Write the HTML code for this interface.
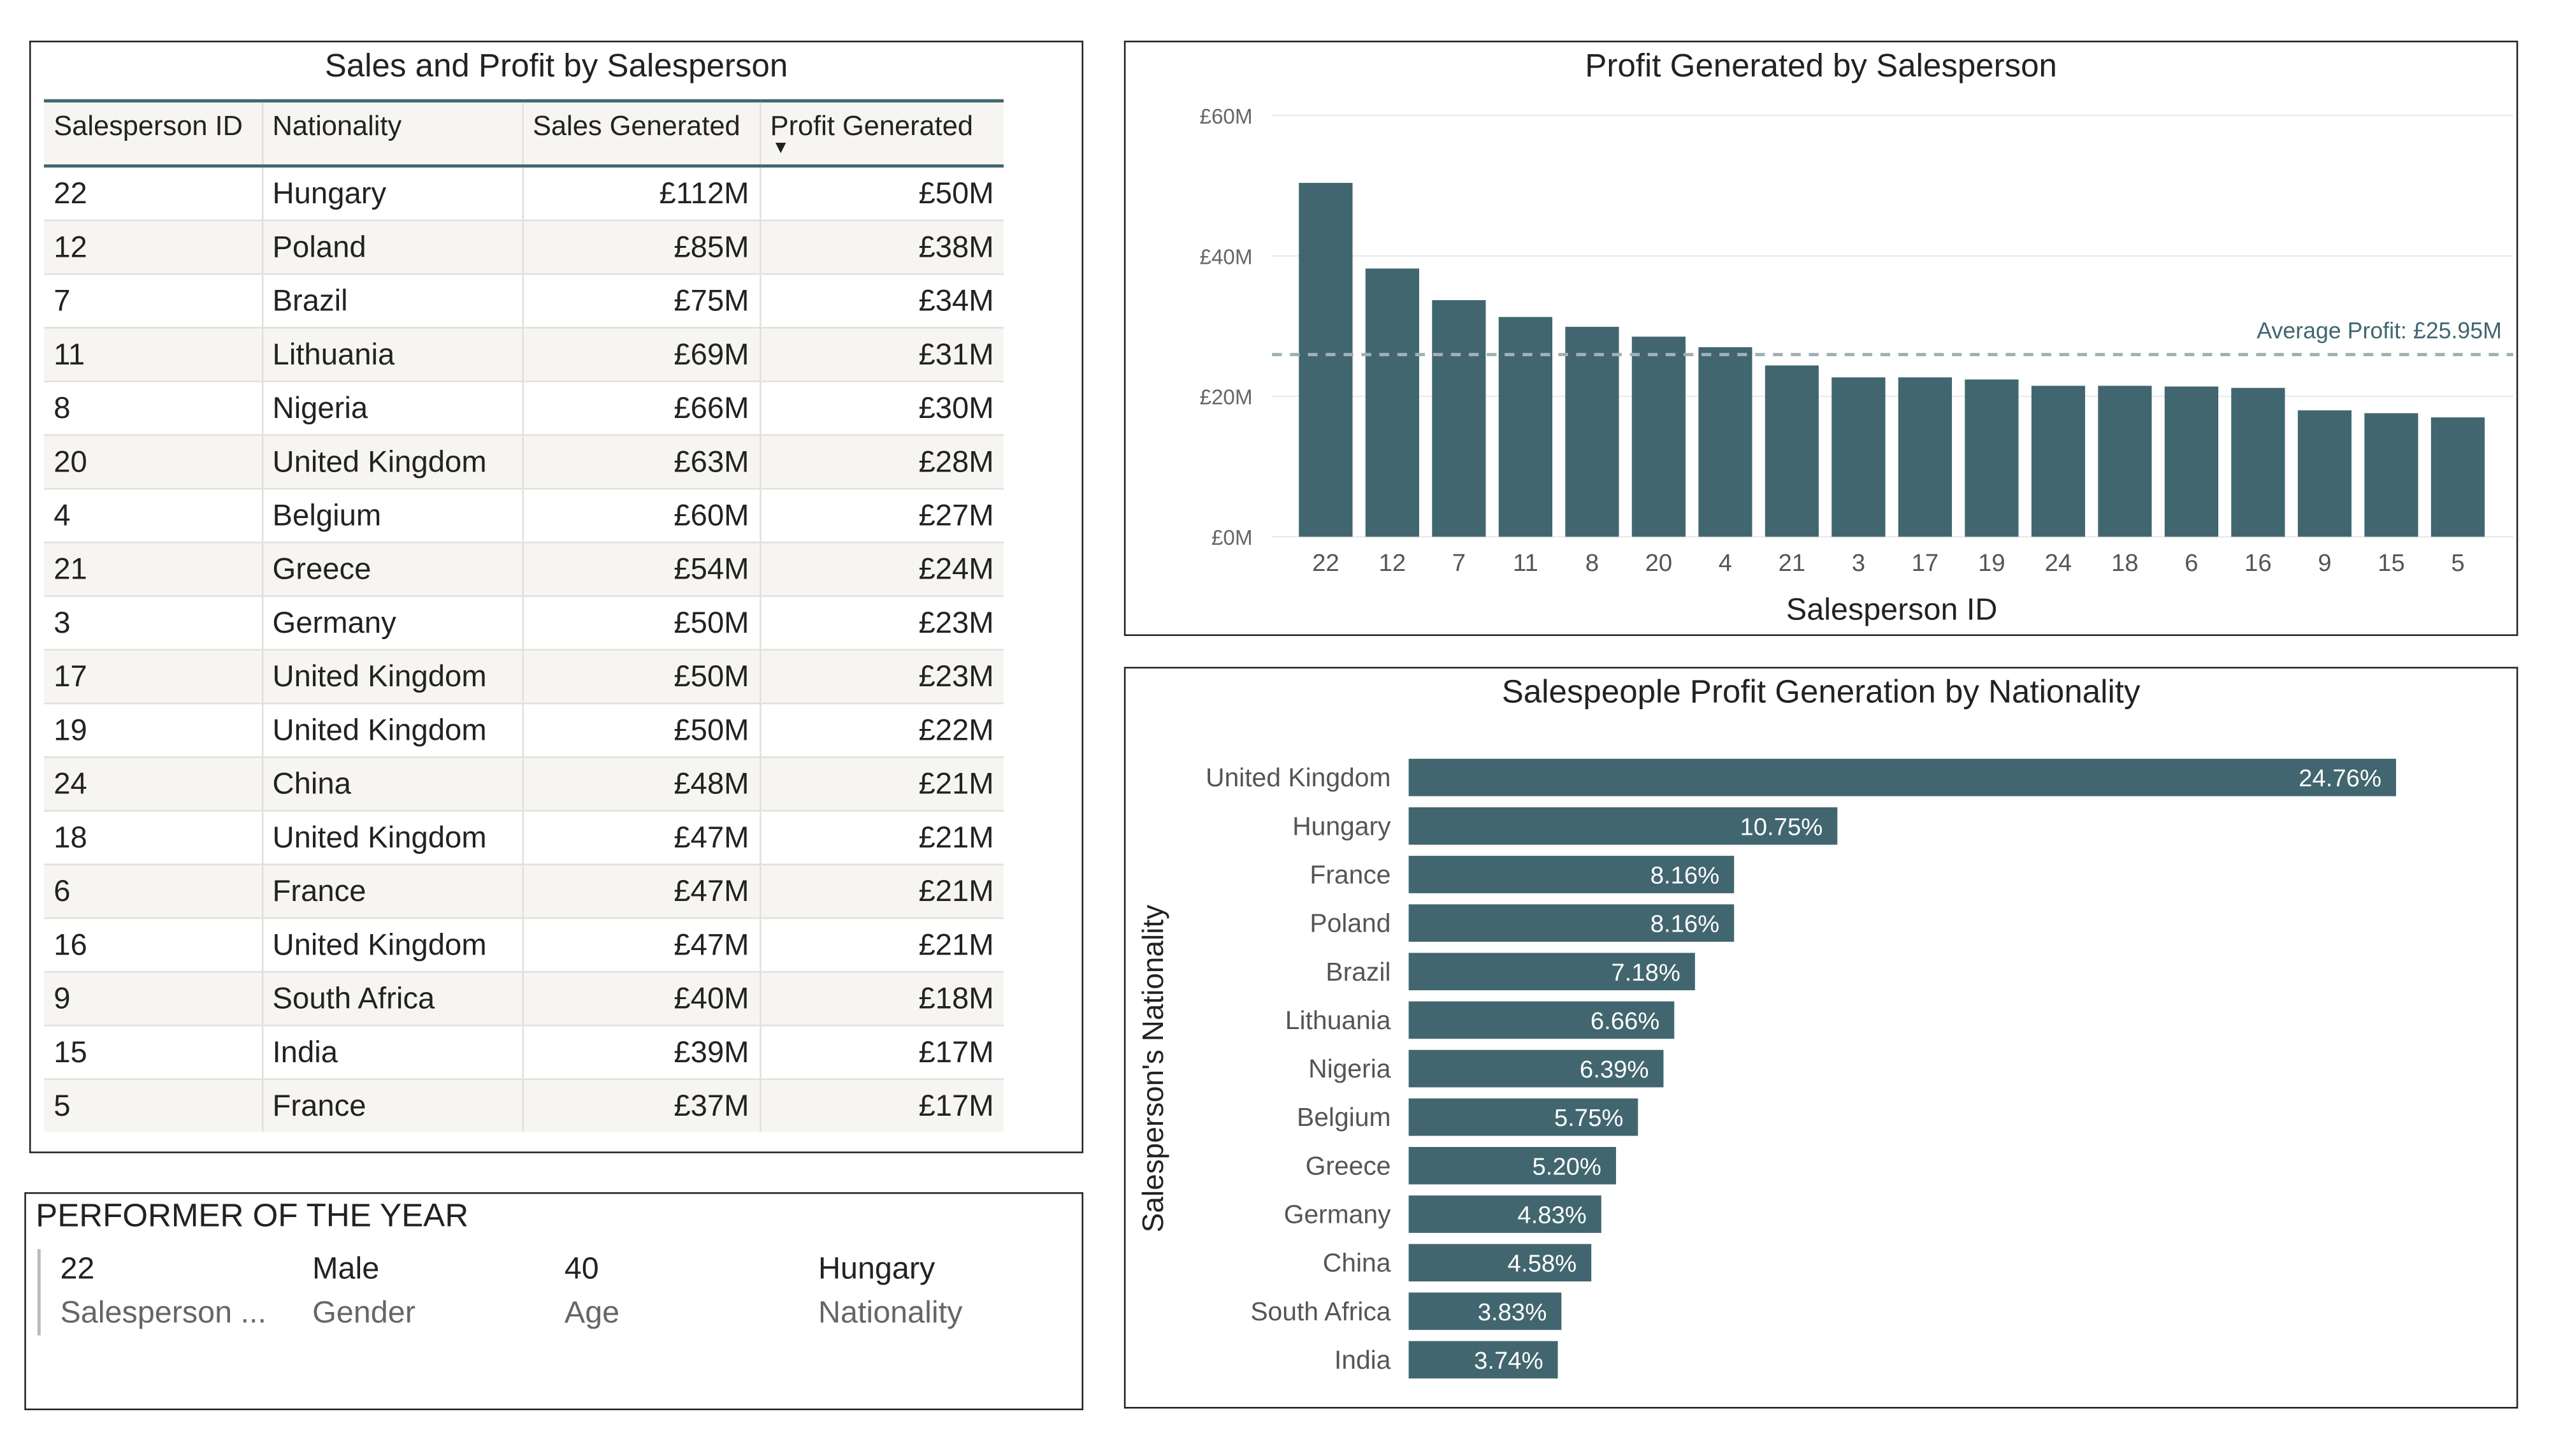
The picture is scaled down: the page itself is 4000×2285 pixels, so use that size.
<!DOCTYPE html>
<html><head><meta charset="utf-8"><style>
html,body{margin:0;padding:0;background:#fff;}
body{width:4000px;height:2282px;overflow:hidden;font-family:"Liberation Sans",sans-serif;}
#root{position:absolute;left:0;top:0;width:1570px;height:895px;transform:scale(2.5526);transform-origin:0 0;}
.panel{position:absolute;border:1.5px solid #222;background:#fff;box-sizing:border-box;}
.title{position:absolute;left:0;right:0;text-align:center;font-size:20px;color:#222;}
table{border-collapse:collapse;position:absolute;left:8px;top:35px;width:590px;font-size:18.5px;color:#222;table-layout:fixed;}
th{font-weight:normal;font-size:17px;text-align:left;height:40px;box-sizing:border-box;vertical-align:top;padding:5px 6px 0 6px;background:#f7f5f2;border-top:2px solid #41666f;border-bottom:2px solid #41666f;border-left:1px solid #e2e0dc;position:relative;white-space:nowrap;}
th:first-child,td:first-child{border-left:none;}
td{height:33px;box-sizing:border-box;padding:0 6px;border-top:1px solid #e2e0dc;border-left:1px solid #e2e0dc;white-space:nowrap;}
tr:nth-child(even) td{background:#f7f5f2;}
.r{text-align:right;}
svg text{font-family:"Liberation Sans",sans-serif;}
</style></head><body>
<div id="root">

<div class="panel" style="left:18px;top:25px;width:648px;height:684px;">
  <div class="title" style="top:4px;">Sales and Profit by Salesperson</div>
  <table>
    <thead><tr>
      <th style="width:134px">Salesperson ID</th>
      <th style="width:160px">Nationality</th>
      <th style="width:146px">Sales Generated</th>
      <th>Profit Generated<span style="position:absolute;left:7px;top:22px;font-size:11px;">▼</span></th>
    </tr></thead>
    <tbody id="tbody"></tbody>
  </table>
</div>

<div class="panel" style="left:15px;top:733px;width:651px;height:134px;">
  <div style="position:absolute;left:6px;top:3px;font-size:20px;color:#222;">PERFORMER OF THE YEAR</div>
  <div style="position:absolute;left:7px;top:34px;width:2px;height:53px;background:#bbb;"></div>
  <div style="position:absolute;left:21px;top:36px;font-size:19px;color:#222;">22</div>
  <div style="position:absolute;left:21px;top:63px;font-size:19px;color:#666;">Salesperson ...</div>
  <div style="position:absolute;left:176px;top:36px;font-size:19px;color:#222;">Male</div>
  <div style="position:absolute;left:176px;top:63px;font-size:19px;color:#666;">Gender</div>
  <div style="position:absolute;left:331px;top:36px;font-size:19px;color:#222;">40</div>
  <div style="position:absolute;left:331px;top:63px;font-size:19px;color:#666;">Age</div>
  <div style="position:absolute;left:487px;top:36px;font-size:19px;color:#222;">Hungary</div>
  <div style="position:absolute;left:487px;top:63px;font-size:19px;color:#666;">Nationality</div>
</div>

<div class="panel" style="left:691px;top:25px;width:857px;height:366px;">
  <div class="title" style="top:4px;">Profit Generated by Salesperson</div>
  <svg id="colsvg" width="857" height="366" style="position:absolute;left:-1.5px;top:-1.5px;"></svg>
</div>

<div class="panel" style="left:691px;top:410px;width:857px;height:456px;">
  <div class="title" style="top:4px;">Salespeople Profit Generation by Nationality</div>
  <svg id="barsvg" width="857" height="456" style="position:absolute;left:-1.5px;top:-1.5px;"></svg>
</div>
</div>

<script>
const tableIds = ["22","12","7","11","8","20","4","21","3","17","19","24","18","6","16","9","15","5"];
const tableNations = ["Hungary","Poland","Brazil","Lithuania","Nigeria","United Kingdom","Belgium","Greece","Germany","United Kingdom","United Kingdom","China","United Kingdom","France","United Kingdom","South Africa","India","France"];
const tableSales = ["£112M","£85M","£75M","£69M","£66M","£63M","£60M","£54M","£50M","£50M","£50M","£48M","£47M","£47M","£47M","£40M","£39M","£37M"];
const tableProfit = ["£50M","£38M","£34M","£31M","£30M","£28M","£27M","£24M","£23M","£23M","£22M","£21M","£21M","£21M","£21M","£18M","£17M","£17M"];

const colCategories = ["22","12","7","11","8","20","4","21","3","17","19","24","18","6","16","9","15","5"];
const colValues = [50.4,38.2,33.7,31.3,29.9,28.5,27.0,24.4,22.7,22.7,22.4,21.5,21.5,21.4,21.2,18.0,17.6,17.0];
const colTicks = [0,20,40,60];
const colTickLabels = ["£0M","£20M","£40M","£60M"];
const avgProfit = [25.95];

const barCategories = ["United Kingdom","Hungary","France","Poland","Brazil","Lithuania","Nigeria","Belgium","Greece","Germany","China","South Africa","India"];
const barValues = [24.76,10.75,8.16,8.16,7.18,6.66,6.39,5.75,5.20,4.83,4.58,3.83,3.74];
const barLabels = ["24.76%","10.75%","8.16%","8.16%","7.18%","6.66%","6.39%","5.75%","5.20%","4.83%","4.58%","3.83%","3.74%"];

const tb = document.getElementById('tbody');
tableIds.forEach((id,i)=>{
  const tr=document.createElement('tr');
  
  
  [[id,''],[tableNations[i],''],[tableSales[i],'r'],[tableProfit[i],'r']].forEach((c,j)=>{
    const td=document.createElement('td'); td.textContent=c[0]; if(c[1]) td.className=c[1];
    
    
    tr.appendChild(td);
  });
  tb.appendChild(tr);
});

const NS='http://www.w3.org/2000/svg';
function mk(svg,tag,attrs,text){const e=document.createElementNS(NS,tag);for(const k in attrs)e.setAttribute(k,attrs[k]);if(text!==undefined)e.textContent=text;svg.appendChild(e);return e;}

(function(){
  const svg=document.getElementById('colsvg');
  const ox=691, oy=25;
  const y0=330-oy, y60=71-oy;
  const yS=v=>y0-(v/60)*(y0-y60);
  const firstX=815-ox, step=(1511-815)/17, bw=33;
  const xS=i=>firstX+i*step;
  colTicks.forEach((t,i)=>{
    const g=mk(svg,'line',{x1:91,x2:854,y1:yS(t),y2:yS(t),stroke:'#ececec','stroke-width':1});
    
    
    const tx=mk(svg,'text',{x:79,y:yS(t)+5,'text-anchor':'end','font-size':13,fill:'#666'},colTickLabels[i]);
    
    
  });
  colValues.forEach((v,i)=>{
    const r=mk(svg,'rect',{x:xS(i)-bw/2,y:yS(v),width:bw,height:y0-yS(v),fill:'#41666f'});
    
    
    const t=mk(svg,'text',{x:xS(i),y:y0+21,'text-anchor':'middle','font-size':15,fill:'#555'},colCategories[i]);
    
    
  });
  const al=mk(svg,'line',{x1:91,x2:854,y1:yS(avgProfit[0]),y2:yS(avgProfit[0]),stroke:'#9fb1b6','stroke-width':2,'stroke-dasharray':'6,5'});
  
  
  const at=mk(svg,'text',{x:847,y:yS(avgProfit[0])-10,'text-anchor':'end','font-size':14,fill:'#41666f'},'Average Profit: £'+avgProfit[0].toFixed(2)+'M');
  
  
  const xt=mk(svg,'text',{x:1163-ox,y:375-oy+6,'text-anchor':'middle','font-size':19,fill:'#222'},'Salesperson ID');
  
  
})();

(function(){
  const svg=document.getElementById('barsvg');
  const ox=691, oy=410;
  const x0=866-ox, pxPer=(1473-866)/24.76;
  const firstY=478-oy, step=(836-478)/12, bh=23;
  const xS=v=>x0+v*pxPer;
  barValues.forEach((v,i)=>{
    const cy=firstY+i*step;
    const r=mk(svg,'rect',{x:x0,y:cy-bh/2,width:xS(v)-x0,height:bh,fill:'#41666f'});
    
    
    const l=mk(svg,'text',{x:x0-11,y:cy+5.5,'text-anchor':'end','font-size':16,fill:'#555'},barCategories[i]);
    
    
    const vt=mk(svg,'text',{x:xS(v)-9,y:cy+5.5,'text-anchor':'end','font-size':15,fill:'#fff'},barLabels[i]);
    
    
  });
  const yt=mk(svg,'text',{x:0,y:0,'text-anchor':'middle','font-size':18,fill:'#222',transform:'translate('+(715-ox)+','+(657-oy)+') rotate(-90)','font-family':'"DejaVu Sans",sans-serif'},"Salesperson's Nationality");
  
  
})();
</script>
</body></html>
